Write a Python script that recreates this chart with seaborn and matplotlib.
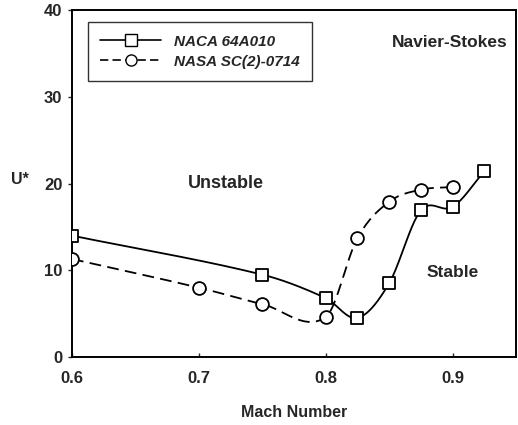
import numpy as np
import pandas as pd
import seaborn as sns
import matplotlib.pyplot as plt
from matplotlib.lines import Line2D

# values
mach_naca = [0.6, 0.75, 0.8, 0.825, 0.85, 0.875, 0.9, 0.925]
u_naca = [14.0, 9.5, 6.8, 4.5, 8.5, 16.9, 17.3, 21.4]
mach_nasa = [0.6, 0.7, 0.75, 0.8, 0.825, 0.85, 0.875, 0.9]
u_nasa = [11.3, 8.0, 6.1, 4.6, 13.7, 17.9, 19.3, 19.6]
labels = ["NACA 64A010", "NASA SC(2)-0714"]


def smooth_curve(x, y, n=40):
    # cardinal (catmull-rom style) hermite curve through the points, only for drawing
    x = np.asarray(x, float)
    y = np.asarray(y, float)
    m = np.gradient(y, x, edge_order=1)
    m[1:-1] = (y[2:] - y[:-2]) / (x[2:] - x[:-2])
    xs_all, ys_all = [], []
    for i in range(len(x) - 1):
        h = x[i + 1] - x[i]
        t = np.linspace(0, 1, n)
        h00 = 2 * t**3 - 3 * t**2 + 1
        h10 = t**3 - 2 * t**2 + t
        h01 = -2 * t**3 + 3 * t**2
        h11 = t**3 - t**2
        xs_all.append(x[i] + t * h)
        ys_all.append(h00 * y[i] + h10 * h * m[i] + h01 * y[i + 1] + h11 * h * m[i + 1])
    return np.concatenate(xs_all), np.concatenate(ys_all)


sns.set_theme(style="ticks")
plt.rcParams["font.family"] = ["Liberation Sans", "DejaVu Sans"]

fig = plt.figure(figsize=(5.18, 4.25), dpi=100)
ax = fig.add_axes([0.139, 0.16, 0.857, 0.816])

xs1, ys1 = smooth_curve(mach_naca, u_naca)
xs2, ys2 = smooth_curve(mach_nasa, u_nasa)
curve1 = pd.DataFrame({"mach": xs1, "u": ys1})
curve2 = pd.DataFrame({"mach": xs2, "u": ys2})
pts1 = pd.DataFrame({"mach": mach_naca, "u": u_naca})
pts2 = pd.DataFrame({"mach": mach_nasa, "u": u_nasa})

sns.lineplot(data=curve1, x="mach", y="u", ax=ax, color="black", lw=1.3, sort=False)
sns.lineplot(data=curve2, x="mach", y="u", ax=ax, color="black", lw=1.3, sort=False)
ax.lines[-1].set_dashes([6.5, 3.5])
sns.scatterplot(data=pts1, x="mach", y="u", ax=ax, marker="s", s=75, color="white",
                edgecolor="black", linewidth=1.3, zorder=3)
sns.scatterplot(data=pts2, x="mach", y="u", ax=ax, marker="o", s=85, color="white",
                edgecolor="black", linewidth=1.3, zorder=3)

ax.set_xlim(0.6, 0.95)
ax.set_ylim(0, 40)
ax.set_xticks([0.6, 0.7, 0.8, 0.9])
ax.set_yticks([0, 10, 20, 30, 40])
ax.set_xticklabels(["0.6", "0.7", "0.8", "0.9"])
for s in ax.spines.values():
    s.set_linewidth(1.4)
    s.set_color("black")
ax.tick_params(axis="x", direction="in", length=3, width=1, labelsize=12, pad=10)
ax.tick_params(axis="y", direction="out", length=3, width=1, labelsize=12, pad=4)
for t in ax.get_xticklabels() + ax.get_yticklabels():
    t.set_fontweight("bold")

ax.set_xlabel("Mach Number", fontsize=11.5, fontweight="bold", labelpad=14)
ax.set_ylabel("U*", fontsize=11.5, fontweight="bold", rotation=0)
ax.yaxis.set_label_coords(-0.117, 0.49)

ax.text(0.721, 20, "Unstable", fontsize=13, fontweight="bold", ha="center", va="center")
ax.text(0.9, 9.7, "Stable", fontsize=12.5, fontweight="bold", ha="center", va="center")
ax.text(0.898, 36.3, "Navier-Stokes", fontsize=12.5, fontweight="bold", ha="center", va="center")

handles = [
    Line2D([], [], color="black", lw=1.2, marker="s", ms=8, mfc="white", mec="black"),
    Line2D([], [], color="black", lw=1.2, ls=(0, (5, 2.5)), marker="o", ms=8,
           mfc="white", mec="black"),
]
leg = ax.legend(handles, labels, loc="upper left", bbox_to_anchor=(0.036, 0.965),
                frameon=True, fancybox=False, edgecolor="black", handlelength=4.0,
                borderpad=0.8, labelspacing=0.4, handletextpad=0.8, borderaxespad=0,
                prop={"size": 11, "weight": "bold", "style": "italic"})
leg.get_frame().set_linewidth(1.0)

fig.savefig("out.png", dpi=100)
